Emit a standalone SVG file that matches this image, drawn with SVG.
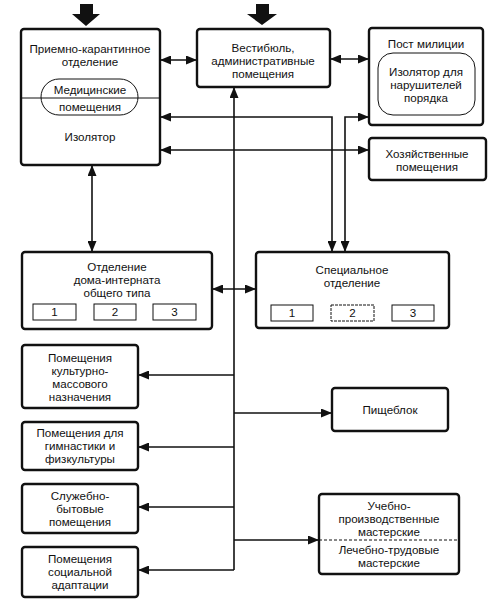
<svg xmlns="http://www.w3.org/2000/svg" width="496" height="608" viewBox="0 0 496 608">
<style>
.box{fill:#fff;stroke:#111;stroke-width:2.4}
.thin{fill:#fff;stroke:#111;stroke-width:1}
.ln{fill:none;stroke:#111;stroke-width:1.6}
text{font-family:"Liberation Sans",Arial,sans-serif;font-size:11.6px;fill:#111;text-anchor:middle}
</style>
<defs>
<marker id="ah" markerUnits="userSpaceOnUse" markerWidth="11" markerHeight="9" refX="11" refY="4.5" orient="auto-start-reverse">
<path d="M0,0 L11,4.5 L0,9 z" fill="#111"/>
</marker>
</defs>
<g id="entries">
<polygon points="80,4 93,4 93,14 100,14 86,26 72,14 80,14" fill="#111"/>
<polygon points="256,4 269,4 269,14 277,14 262,25 247,14 256,14" fill="#111"/>
</g>
<g id="connectors">
<path class="ln" d="M160,60 H197" marker-start="url(#ah)" marker-end="url(#ah)"/>
<path class="ln" d="M330,59 H369" marker-start="url(#ah)" marker-end="url(#ah)"/>
<path class="ln" d="M160,117 H332 V252" marker-start="url(#ah)" marker-end="url(#ah)"/>
<path class="ln" d="M345,252 V117 H369" marker-start="url(#ah)" marker-end="url(#ah)"/>
<path class="ln" d="M160,150 H369" marker-start="url(#ah)" marker-end="url(#ah)"/>
<path class="ln" d="M92,165 V252" marker-start="url(#ah)" marker-end="url(#ah)"/>
<path class="ln" d="M212,289 H256" marker-start="url(#ah)" marker-end="url(#ah)"/>
<path class="ln" d="M234,570 V87" marker-end="url(#ah)"/>
<path class="ln" d="M234,375 H138" marker-end="url(#ah)"/>
<path class="ln" d="M234,447 H138" marker-end="url(#ah)"/>
<path class="ln" d="M234,507 H138" marker-end="url(#ah)"/>
<path class="ln" d="M234,570 H138" marker-end="url(#ah)"/>
<path class="ln" d="M234,413 H332" marker-end="url(#ah)"/>
<path class="ln" d="M234,540 H319" marker-end="url(#ah)"/>
</g>
<g id="priemno">
<rect class="box" x="21" y="29" width="139" height="136" rx="3"/>
<line x1="21" y1="98" x2="160" y2="98" stroke="#111" stroke-width="1"/>
<rect x="41" y="79" width="97" height="36" rx="18" fill="none" stroke="#111" stroke-width="1"/>
<text x="90" y="53">Приемно-карантинное</text>
<text x="90" y="66">отделение</text>
<text x="90" y="94">Медицинские</text>
<text x="90" y="111">помещения</text>
<text x="90" y="141">Изолятор</text>
</g>
<g id="vestibul">
<rect class="box" x="197" y="29" width="133" height="58" rx="3"/>
<text x="263" y="52">Вестибюль,</text>
<text x="263" y="65">административные</text>
<text x="263" y="78">помещения</text>
</g>
<g id="post">
<rect class="box" x="369" y="28" width="114" height="97" rx="3"/>
<text x="426" y="48">Пост милиции</text>
<rect x="378" y="53" width="97" height="62" rx="15" fill="none" stroke="#111" stroke-width="1"/>
<text x="426" y="76">Изолятор для</text>
<text x="426" y="89">нарушителей</text>
<text x="426" y="102">порядка</text>
</g>
<g id="hoz">
<rect class="box" x="369" y="138" width="117" height="42" rx="3"/>
<text x="427" y="158">Хозяйственные</text>
<text x="427" y="171">помещения</text>
</g>
<g id="internat">
<rect class="box" x="22" y="252" width="190" height="77" rx="3"/>
<text x="117" y="271">Отделение</text>
<text x="117" y="284">дома-интерната</text>
<text x="117" y="297">общего типа</text>
<rect class="thin" x="33" y="304" width="43" height="16"/>
<rect class="thin" x="94" y="304" width="42" height="16"/>
<rect class="thin" x="153" y="304" width="43" height="16"/>
<text x="54.5" y="316">1</text>
<text x="115" y="316">2</text>
<text x="174.5" y="316">3</text>
</g>
<g id="special">
<rect class="box" x="256" y="252" width="193" height="76" rx="3"/>
<text x="352" y="274">Специальное</text>
<text x="352" y="287">отделение</text>
<rect class="thin" x="271" y="305" width="42" height="16"/>
<rect class="thin" x="331" y="305" width="43" height="16" stroke-dasharray="3,1"/>
<rect class="thin" x="392" y="305" width="42" height="16"/>
<text x="292" y="317">1</text>
<text x="352.5" y="317">2</text>
<text x="413" y="317">3</text>
</g>
<g id="kult">
<rect class="box" x="22" y="345" width="116" height="63" rx="3"/>
<text x="80" y="362">Помещения</text>
<text x="80" y="375">культурно-</text>
<text x="80" y="388">массового</text>
<text x="80" y="401">назначения</text>
</g>
<g id="gimn">
<rect class="box" x="22" y="422" width="116" height="48" rx="3"/>
<text x="80" y="437">Помещения для</text>
<text x="80" y="450">гимнастики и</text>
<text x="80" y="463">физкультуры</text>
</g>
<g id="pishcheblok">
<rect class="box" x="332" y="388" width="116" height="43" rx="3"/>
<text x="390" y="414">Пищеблок</text>
</g>
<g id="sluzh">
<rect class="box" x="22" y="484" width="116" height="49" rx="3"/>
<text x="80" y="500">Служебно-</text>
<text x="80" y="513">бытовые</text>
<text x="80" y="526">помещения</text>
</g>
<g id="soc">
<rect class="box" x="22" y="547" width="116" height="50" rx="3"/>
<text x="80" y="563">Помещения</text>
<text x="80" y="576">социальной</text>
<text x="80" y="589">адаптации</text>
</g>
<g id="masterskie">
<rect class="box" x="319" y="494" width="140" height="80" rx="3"/>
<line x1="319" y1="540" x2="459" y2="540" stroke="#111" stroke-width="1" stroke-dasharray="3,2"/>
<text x="389" y="510">Учебно-</text>
<text x="389" y="523">производственные</text>
<text x="389" y="536">мастерские</text>
<text x="389" y="554">Лечебно-трудовые</text>
<text x="389" y="567">мастерские</text>
</g>
</svg>
